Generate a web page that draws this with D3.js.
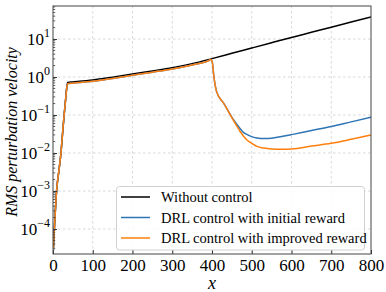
<!DOCTYPE html>
<html>
<head>
<meta charset="utf-8">
<script src="https://cdn.jsdelivr.net/npm/d3@7"></script>
<style>
  html, body { margin: 0; padding: 0; background: #fff; }
</style>
</head>
<body>
<svg id="chart" width="386" height="292"></svg>
<script>
// ---- data ----
const xNoCtrl = [1, 2.5, 5, 9, 15, 20, 24, 28, 32, 35, 37, 50, 100, 150, 200, 250, 300, 350, 400, 450, 500, 550, 600, 650, 700, 750, 800];
const yNoCtrl = [3e-5, 6.5e-5, 2e-4, 1e-3, 3.5e-3, 1e-2, 3.2e-2, 0.1, 0.28, 0.58, 0.72, 0.74, 0.83, 0.99, 1.2, 1.44, 1.75, 2.25, 3.05, 4.2, 5.8, 8.0, 11.0, 15.0, 20.5, 27.9, 38];

const xInit = [1, 2.5, 5, 9, 15, 20, 24, 28, 32, 35, 37, 50, 100, 150, 200, 250, 300, 350, 390, 397, 401, 404, 408, 412, 430, 454, 470, 479, 490, 500, 513, 530, 550, 575, 600, 650, 700, 750, 800];
const yInit = [3e-5, 6.5e-5, 2e-4, 1e-3, 3.5e-3, 1e-2, 3.2e-2, 0.1, 0.27, 0.55, 0.67, 0.69, 0.77, 0.92, 1.11, 1.34, 1.63, 2.08, 2.65, 2.9, 2.4, 1.2, 0.6, 0.4, 0.2, 0.075, 0.045, 0.035, 0.03, 0.027, 0.025, 0.024, 0.0245, 0.0272, 0.0305, 0.039, 0.05, 0.066, 0.087];

const xImpr = [1, 2.5, 5, 9, 15, 20, 24, 28, 32, 35, 37, 50, 100, 150, 200, 250, 300, 350, 390, 397, 401, 404, 408, 412, 430, 454, 470, 479, 490, 500, 513, 530, 550, 575, 600, 650, 700, 750, 800];
const yImpr = [3e-5, 6.5e-5, 2e-4, 1e-3, 3.5e-3, 1e-2, 3.2e-2, 0.1, 0.27, 0.55, 0.67, 0.69, 0.77, 0.92, 1.11, 1.34, 1.63, 2.08, 2.65, 2.9, 2.4, 1.2, 0.6, 0.4, 0.2, 0.072, 0.038, 0.028, 0.021, 0.018, 0.015, 0.0135, 0.0128, 0.0126, 0.0128, 0.0152, 0.018, 0.023, 0.030];

const xTicks = [0, 100, 200, 300, 400, 500, 600, 700, 800];
const yTickExps = [-4, -3, -2, -1, 0, 1];
const seriesNames = ["Without control", "DRL control with initial reward", "DRL control with improved reward"];
const seriesColors = ["#000000", "#2f74b5", "#ff7f0e"];

// ---- layout ----
const svg = d3.select("#chart");
const L = 53, R = 371, T = 6, B = 254;
const x = d3.scaleLinear().domain([0, 800]).range([L, R]);
const y = d3.scaleLog().domain([2.2e-5, 74]).range([B, T]);

// grid
const grid = svg.append("g");
xTicks.slice(1, -1).forEach(v => {
  grid.append("line").attr("x1", x(v)).attr("x2", x(v)).attr("y1", T).attr("y2", B)
    .attr("stroke", "#cfcfcf").attr("stroke-width", 0.8).attr("stroke-dasharray", "2.5,2.5");
});
yTickExps.forEach(e => {
  const v = Math.pow(10, e);
  grid.append("line").attr("x1", L).attr("x2", R).attr("y1", y(v)).attr("y2", y(v))
    .attr("stroke", "#cfcfcf").attr("stroke-width", 0.8).attr("stroke-dasharray", "2.5,2.5");
});

// lines
const line = d3.line().x(d => x(d[0])).y(d => y(d[1])).curve(d3.curveMonotoneX);
const series = [
  d3.zip(xNoCtrl, yNoCtrl),
  d3.zip(xInit, yInit),
  d3.zip(xImpr, yImpr)
];
const plot = svg.append("g");
plot.append("defs").append("clipPath").attr("id", "clip")
  .append("rect").attr("x", L).attr("y", T).attr("width", R - L).attr("height", B - T);
series.forEach((s, i) => {
  plot.append("path").datum(s).attr("d", line).attr("fill", "none")
    .attr("stroke", seriesColors[i]).attr("stroke-width", 1.5)
    .attr("stroke-linejoin", "round").attr("clip-path", "url(#clip)");
});

// axes (ticks inward); use the browser's default (serif) face
const xAxis = d3.axisBottom(x).tickValues(xTicks).tickSize(-4).tickPadding(7).tickFormat(d3.format("d"));
const gx = svg.append("g").attr("transform", `translate(0,${B})`).call(xAxis);
gx.attr("font-family", null).attr("font-size", null);
gx.select(".domain").remove();
gx.selectAll(".tick line").attr("stroke", "#333");
gx.selectAll("text").attr("font-size", 17).attr("fill", "#000")
  .attr("dy", null).attr("y", 17);

// y major ticks
const gy = svg.append("g").attr("transform", `translate(${L},0)`);
const yMajor = yTickExps.map(e => Math.pow(10, e));
const yAxis = d3.axisLeft(y).tickValues(yMajor).tickSize(-4).tickFormat("");
gy.call(yAxis);
gy.attr("font-family", null).attr("font-size", null);
gy.select(".domain").remove();
gy.selectAll(".tick line").attr("stroke", "#333");
// minor ticks
const minor = [];
for (let e = -5; e <= 1; e++) for (let m = 2; m <= 9; m++) {
  const v = m * Math.pow(10, e);
  if (v >= y.domain()[0] && v <= y.domain()[1]) minor.push(v);
}
gy.selectAll(".minor").data(minor).enter().append("line").attr("class", "minor")
  .attr("x1", 0).attr("x2", 2.2).attr("y1", d => y(d)).attr("y2", d => y(d))
  .attr("stroke", "#333").attr("stroke-width", 0.8);
// y labels with superscripts
yTickExps.forEach(e => {
  const t = svg.append("text").attr("x", 50).attr("y", y(Math.pow(10, e)) + 6)
    .attr("text-anchor", "end").attr("font-size", 17).attr("fill", "#000");
  t.append("tspan").text("10");
  t.append("tspan").attr("dy", -8).attr("font-size", 12).text(e < 0 ? "\u2212" + (-e) : String(e));
});

// frame
svg.append("rect").attr("x", L).attr("y", T).attr("width", R - L).attr("height", B - T)
  .attr("fill", "none").attr("stroke", "#444").attr("stroke-width", 1);

// axis labels
svg.append("text").attr("x", (L + R) / 2).attr("y", 289).attr("text-anchor", "middle")
  .attr("font-size", 18).attr("font-style", "italic").attr("fill", "#000").text("x");
svg.append("text").attr("transform", `translate(17,${(T + B) / 2 + 2}) rotate(-90)`)
  .attr("text-anchor", "middle").attr("font-size", 16).attr("font-style", "italic")
  .attr("fill", "#000").text("RMS perturbation velocity");

// legend
const lg = svg.append("g");
lg.append("rect").attr("x", 116.5).attr("y", 186.5).attr("width", 248).attr("height", 63.5)
  .attr("rx", 3).attr("fill", "#fff").attr("fill-opacity", 0.85)
  .attr("stroke", "#d0d0d0").attr("stroke-width", 1);
seriesNames.forEach((name, i) => {
  const yy = 197 + i * 20.5;
  lg.append("line").attr("x1", 121).attr("x2", 150).attr("y1", yy).attr("y2", yy)
    .attr("stroke", seriesColors[i]).attr("stroke-width", 1.5);
  lg.append("text").attr("x", 161).attr("y", yy + 5).attr("font-size", 14.5).attr("fill", "#000")
    .text(name);
});
</script>
</body>
</html>
